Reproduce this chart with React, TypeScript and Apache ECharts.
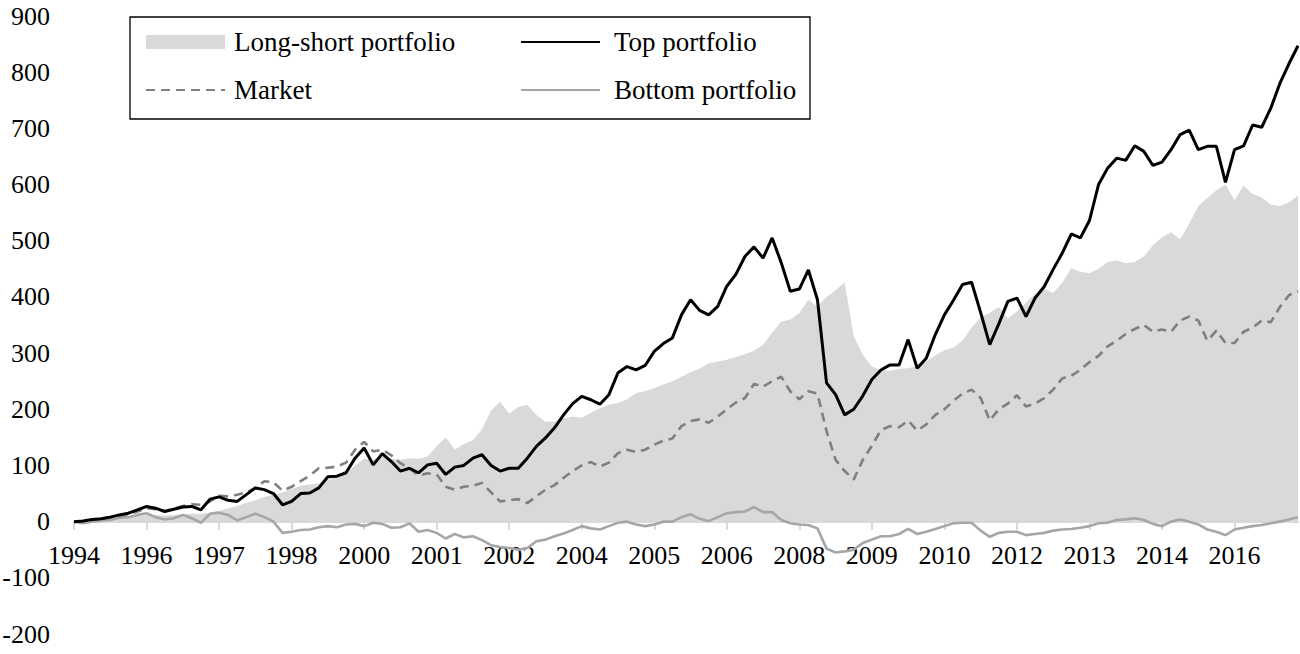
import React, { useEffect, useRef } from "react";
import * as echarts from "echarts";

const yearLabels = ["1994", "1996", "1997", "1998", "2000", "2001", "2002", "2004", "2005", "2006", "2008", "2009", "2010", "2012", "2013", "2014", "2016"];
const labelEvery = 8;

const topPortfolio = [
  0, 1, 4, 5, 8, 12, 15, 21, 27, 24,
  18, 22, 26, 27, 21, 40, 44, 38, 36, 48,
  60, 57, 50, 30, 36, 50, 51, 60, 80, 81,
  87, 113, 131, 101, 121, 107, 90, 95, 87, 101,
  104, 84, 97, 100, 113, 119, 100, 90, 95, 95,
  113, 134, 149, 167, 190, 210, 223, 217, 209, 226,
  265, 276, 270, 278, 303, 317, 327, 368, 395, 376,
  368, 383, 419, 440, 472, 489, 469, 505, 461, 410,
  414, 448, 395, 247, 226, 190, 200, 224, 253, 270,
  279, 279, 324, 273, 291, 333, 368, 394, 422, 426,
  372, 315, 352, 392, 398, 365, 398, 418, 449, 478,
  512, 505, 536, 600, 629, 647, 643, 669, 659, 634,
  640, 662, 689, 697, 662, 668, 668, 604, 662, 669,
  706, 702, 736, 780, 815, 847,
];

const market = [
  0, 0, 3, 5, 8, 10, 13, 18, 24, 22,
  19, 23, 28, 31, 30, 36, 46, 45, 48, 52,
  60, 72, 70, 55, 62, 72, 82, 95, 96, 98,
  105, 128, 142, 125, 128, 118, 104, 95, 82, 86,
  84, 62, 57, 62, 64, 69, 52, 36, 38, 40,
  33, 45, 57, 65, 78, 90, 100, 106, 98, 105,
  122, 128, 124, 128, 137, 144, 148, 170, 179, 182,
  176, 187, 200, 212, 220, 245, 240, 250, 258, 232,
  218, 232, 228, 161, 110, 90, 75, 110, 135, 163,
  170, 168, 180, 162, 173, 190, 200, 215, 228, 235,
  220, 180, 200, 210, 225, 205, 210, 220, 235, 255,
  260, 270, 284, 295, 312, 322, 334, 343, 350, 338,
  342, 338, 358, 365, 358, 322, 340, 318, 318, 338,
  345, 358, 355, 382, 403, 410,
];

const longShort = [
  0, 1, 2, 4, 5, 6, 8, 10, 12, 12,
  11, 12, 13, 14, 14, 16, 19, 24, 28, 33,
  38, 44, 48, 52, 58, 64, 66, 68, 74, 80,
  86, 100, 112, 110, 118, 112, 110, 113, 112, 116,
  134, 150, 128, 138, 145, 165, 198, 214, 192, 204,
  208, 190, 178, 178, 184, 187, 185, 194, 202, 208,
  211, 218, 229, 232, 238, 244, 250, 258, 266, 272,
  282, 285, 288, 293, 298, 304, 315, 336, 356, 360,
  371, 395, 383, 400, 412, 426, 330, 297, 276, 270,
  268, 272, 273, 277, 285, 296, 305, 310, 322, 345,
  364, 372, 382, 362, 374, 390, 405, 414, 407, 425,
  451, 445, 442, 450, 462, 465, 460, 462, 472, 492,
  506, 515, 502, 530, 562, 576, 590, 600, 572, 598,
  583, 577, 564, 562, 568, 580,
];

const bottomPortfolio = [
  0, -3, 0, 2, 3, 7, 8, 12, 15, 8,
  4, 6, 12, 6, -2, 14, 16, 12, 2, 8,
  14, 8, 0, -20, -18, -15, -14, -10, -8, -10,
  -5, -4, -8, -2, -4, -11, -10, -3, -18, -15,
  -20, -30, -22, -28, -26, -33, -42, -45, -47, -50,
  -47, -35, -32, -26, -21, -15, -8, -12, -14, -8,
  -2, 0, -5, -8, -5, 0, 0, 8, 13, 5,
  1, 8, 15, 17, 18, 26, 17, 17, 3, -3,
  -5, -6, -12, -48, -55, -53, -50, -38, -32, -26,
  -26, -22, -13, -22, -18, -13, -8, -3, -2, -2,
  -16, -27, -20, -18, -18, -24, -22, -20, -16, -14,
  -13, -11, -8, -3, -2, 3, 4, 6, 3, -4,
  -8, 0, 4, 0, -5, -14, -18, -24, -14, -11,
  -8, -6, -3, 0, 4, 8,
];

const periods = topPortfolio.map((_, i) => String(i));

const FONT = "'Liberation Serif', 'Times New Roman', serif";
const Y_MIN = -200;
const Y_MAX = 900;
const GRID_TOP = 16;
const GRID_BOTTOM = 20;

export default function App() {
  const ref = useRef<HTMLDivElement>(null);

  useEffect(() => {
    if (!ref.current) return;
    const chart = echarts.init(ref.current, undefined, { renderer: "svg" });
    const plotHeight = 654 - GRID_TOP - GRID_BOTTOM;
    // lift the category axis from the grid bottom up to the value 0
    const zeroOffset = (plotHeight * (0 - Y_MIN)) / (Y_MAX - Y_MIN);
    const legendText = { fontFamily: FONT, fontSize: 27, color: "#000", lineHeight: 30 };
    const hideSymbol = { opacity: 0 };
    chart.setOption({
      animation: false,
      backgroundColor: "#fff",
      grid: { left: 74, right: 2, top: GRID_TOP, bottom: GRID_BOTTOM, outerBoundsMode: "none" },
      xAxis: {
        type: "category",
        data: periods,
        boundaryGap: false,
        position: "bottom",
        offset: -zeroOffset,
        axisLine: { onZero: false, lineStyle: { color: "#d9d9d9", width: 2 } },
        axisTick: { show: true, interval: labelEvery - 1, length: 8, lineStyle: { color: "#d9d9d9", width: 2 } },
        axisLabel: {
          interval: labelEvery - 1,
          formatter: (_v: string, i: number) => yearLabels[Math.round(i / labelEvery)] ?? "",
          color: "#000",
          fontFamily: FONT,
          fontSize: 26,
          margin: 21,
        },
        splitLine: { show: false },
      },
      yAxis: {
        type: "value",
        min: Y_MIN,
        max: Y_MAX,
        interval: 100,
        axisLine: { show: false },
        axisTick: { show: false },
        splitLine: { show: false },
        axisLabel: { color: "#000", fontFamily: FONT, fontSize: 26, margin: 24 },
      },
      legend: [
        {
          orient: "vertical",
          left: 145,
          top: 27,
          padding: 0,
          itemWidth: 79,
          itemHeight: 14,
          itemGap: 18,
          selectedMode: false,
          data: [
            { name: "Long-short portfolio", icon: "rect", itemStyle: { color: "#d9d9d9", borderWidth: 0 } },
            { name: "Market", itemStyle: hideSymbol },
          ],
          textStyle: { ...legendText, padding: [0, 0, 0, 4] },
        },
        {
          orient: "vertical",
          left: 520,
          top: 27,
          padding: 0,
          itemWidth: 79,
          itemHeight: 14,
          itemGap: 18,
          selectedMode: false,
          data: [
            { name: "Top portfolio", itemStyle: hideSymbol },
            { name: "Bottom portfolio", itemStyle: hideSymbol },
          ],
          textStyle: { ...legendText, padding: [0, 0, 0, 9] },
        },
      ],
      graphic: [
        {
          type: "rect",
          shape: { x: 130, y: 17, width: 680, height: 102 },
          style: { fill: "none", stroke: "#000", lineWidth: 1.3 },
        },
      ],
      series: [
        {
          name: "Long-short portfolio",
          type: "line",
          data: longShort,
          symbol: "none",
          color: "#d9d9d9",
          lineStyle: { width: 0 },
          areaStyle: { color: "#d9d9d9", opacity: 1 },
        },
        {
          name: "Bottom portfolio",
          type: "line",
          data: bottomPortfolio,
          symbol: "none",
          color: "#a6a6a6",
          lineStyle: { color: "#a6a6a6", width: 2.6 },
        },
        {
          name: "Market",
          type: "line",
          data: market,
          symbol: "none",
          color: "#7f7f7f",
          lineStyle: { color: "#7f7f7f", width: 2.6, type: [9, 6] },
        },
        {
          name: "Top portfolio",
          type: "line",
          data: topPortfolio,
          symbol: "none",
          color: "#000",
          lineStyle: { color: "#000", width: 3 },
        },
      ],
    });
    return () => chart.dispose();
  }, []);

  return (
    <div
      ref={ref}
      style={{ position: "absolute", left: 0, top: 0, width: 1300, height: 654, background: "#fff" }}
    />
  );
}
